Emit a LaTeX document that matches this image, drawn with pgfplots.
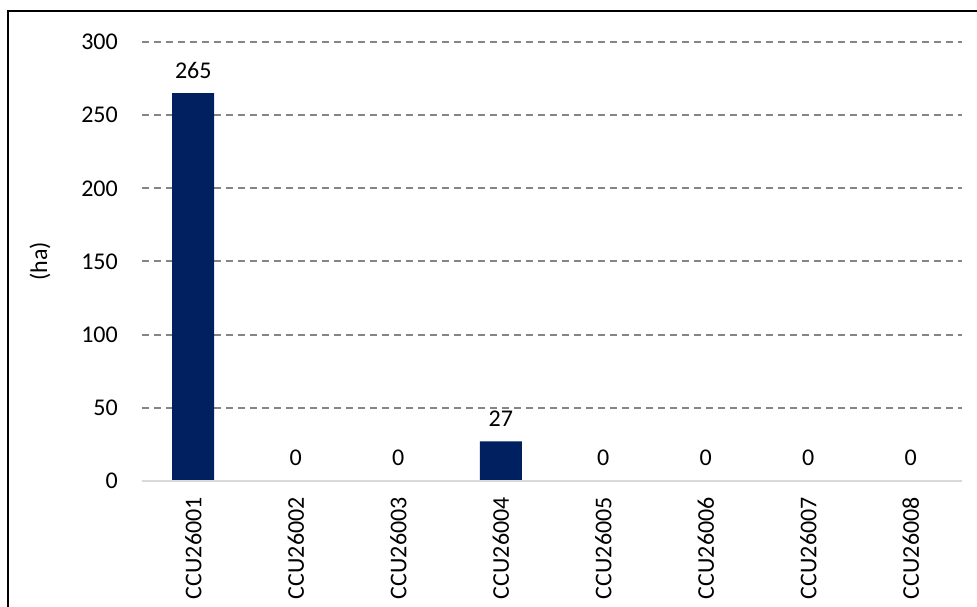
\documentclass[border=0pt]{standalone}
\usepackage{fontspec}
\setmainfont{Carlito}
\usepackage{pgfplots}
\pgfplotsset{compat=1.18}
\definecolor{barblue}{HTML}{002060}
\definecolor{gridgray}{HTML}{858585}
\definecolor{zerogray}{HTML}{D9D9D9}
\begin{document}
\fontsize{24bp}{28bp}\selectfont
\begin{tikzpicture}[x=1bp,y=1bp]
\useasboundingbox (-142,-126) rectangle (835,481);
\clip (-142,-126) rectangle (835,481);
\draw[line width=2bp] (-134,470) rectangle (900,-200);
\begin{axis}[
    at={(0,0)}, anchor=south west,
    scale only axis,
    width=820bp, height=439bp,
    xmin=-0.5, xmax=7.5,
    ymin=0, ymax=300,
    ytick={0,50,...,300},
    xtick={0,...,7},
    xticklabels={CCU26001,CCU26002,CCU26003,CCU26004,CCU26005,CCU26006,CCU26007,CCU26008},
    axis line style={draw=none},
    major tick length=0pt,
    ymajorgrids,
    grid style={gridgray, line width=2bp, dash pattern=on 7bp off 5bp},
    /pgf/number format/assume math mode=true,
    yticklabel style={inner sep=0pt, xshift=-24bp, anchor=east},
    xticklabel style={yshift=-16bp, rotate=90, anchor=east, inner sep=0pt},
    tick label style={font=\fontsize{24bp}{28bp}\selectfont},
    ybar, bar width=42bp,
    nodes near coords,
    nodes near coords style={anchor=center, yshift=23bp, font=\fontsize{24bp}{28bp}\selectfont},
    clip=false,
]
\addplot[fill=barblue, draw=none] coordinates {
    (0,265) (1,0) (2,0) (3,27) (4,0) (5,0) (6,0) (7,0)
};
\draw[zerogray, line width=2bp] (axis cs:-0.5,0) -- (axis cs:7.5,0);
\node[rotate=90] at ([xshift=-102bp]rel axis cs:0,0.5) {(ha)};
\end{axis}
\end{tikzpicture}
\end{document}
